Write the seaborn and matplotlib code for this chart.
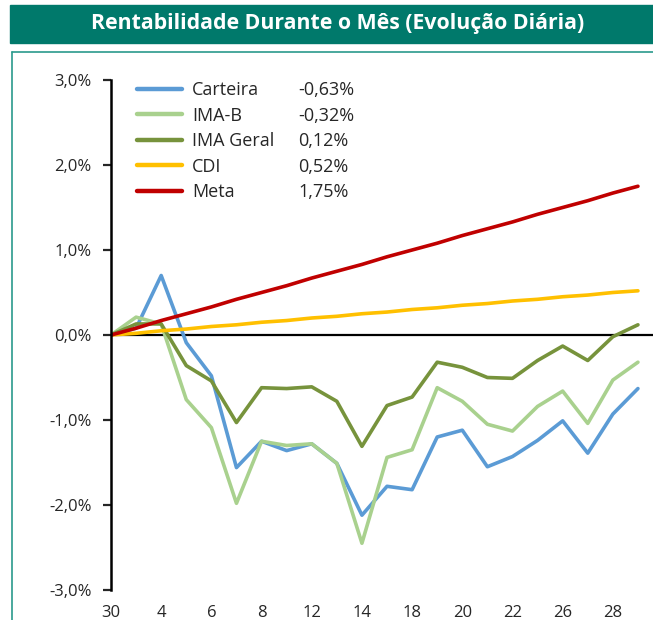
import matplotlib
matplotlib.use("Agg")
import matplotlib.pyplot as plt
from matplotlib.lines import Line2D
from matplotlib.patches import Rectangle
import pandas as pd
import seaborn as sb

# data (percent)
days = ["30", "1", "4", "5", "6", "7", "8", "11", "12", "13", "14",
        "15", "18", "19", "20", "21", "22", "25", "26", "27", "28", "29"]
carteira = [0.00, 0.08, 0.70, -0.09, -0.48, -1.56, -1.25, -1.36, -1.28, -1.51, -2.12,
            -1.78, -1.82, -1.20, -1.12, -1.55, -1.43, -1.24, -1.01, -1.39, -0.93, -0.63]
ima_b = [0.00, 0.21, 0.13, -0.76, -1.09, -1.98, -1.25, -1.30, -1.28, -1.51, -2.45,
         -1.44, -1.35, -0.62, -0.78, -1.05, -1.13, -0.84, -0.66, -1.04, -0.53, -0.32]
ima_geral = [0.00, 0.13, 0.13, -0.36, -0.54, -1.03, -0.62, -0.63, -0.61, -0.78, -1.31,
             -0.83, -0.73, -0.32, -0.38, -0.50, -0.51, -0.30, -0.13, -0.30, -0.02, 0.12]
cdi = [0.00, 0.02, 0.05, 0.07, 0.10, 0.12, 0.15, 0.17, 0.20, 0.22, 0.25,
       0.27, 0.30, 0.32, 0.35, 0.37, 0.40, 0.42, 0.45, 0.47, 0.50, 0.52]
meta = [0.00, 0.08, 0.17, 0.25, 0.33, 0.42, 0.50, 0.58, 0.67, 0.75, 0.83,
        0.92, 1.00, 1.08, 1.17, 1.25, 1.33, 1.42, 1.50, 1.58, 1.67, 1.75]
names = ["Carteira", "IMA-B", "IMA Geral", "CDI", "Meta"]
month_values = ["-0,63%", "-0,32%", "0,12%", "0,52%", "1,75%"]
colors = ["#5B9BD5", "#A9D18E", "#77933C", "#FFC000", "#C00000"]
teal = "#00796B"

# long-form table for seaborn
series = [carteira, ima_b, ima_geral, cdi, meta]
rows = []
for name, vals in zip(names, series):
    for i, v in enumerate(vals):
        rows.append({"pos": i, "valor": v, "serie": name})
df = pd.DataFrame(rows)

sb.set_style("white")
plt.rcParams["font.family"] = ["Open Sans", "DejaVu Sans"]

W, H = 653, 620
fig = plt.figure(figsize=(W / 100, H / 100), dpi=100)

# title bar and frame
fig.patches.append(Rectangle((10 / W, 1 - 43 / H), 1 - 10 / W, 38 / H,
                             transform=fig.transFigure, color=teal, zorder=0))
fig.text(338 / W, 1 - 24 / H, "Rentabilidade Durante o Mês (Evolução Diária)",
         color="white", fontsize=15.3, fontweight="bold", ha="center", va="center")
fig.lines.append(Line2D([12 / W, 12 / W], [0, 1 - 52 / H], transform=fig.transFigure,
                        color="#2A9A8C", lw=1.2))
fig.lines.append(Line2D([12 / W, 1], [1 - 52 / H, 1 - 52 / H], transform=fig.transFigure,
                        color="#2A9A8C", lw=1.2))

ax = fig.add_axes([111 / W, 30 / H, 1 - 111 / W, 510 / H])
sb.lineplot(data=df, x="pos", y="valor", hue="serie", hue_order=names,
            palette=colors, linewidth=2.6, legend=False, ax=ax)
ax.axhline(0, color="black", lw=1.6, zorder=1)

ax.set_xlim(0, 21.6)
ax.set_ylim(-3, 3)
ax.set_yticks([-3, -2, -1, 0, 1, 2, 3])
ax.set_yticklabels([("%.1f%%" % v).replace(".", ",") for v in [-3, -2, -1, 0, 1, 2, 3]])
ax.set_xticks(range(0, len(days), 2))
ax.set_xticklabels(days[::2])
ax.tick_params(axis="y", left=True, length=6, width=1.6, pad=8, labelsize=12)
ax.tick_params(axis="x", length=0, pad=11, labelsize=12)
ax.set_xlabel("")
ax.set_ylabel("")
for b in ["top", "right", "bottom"]:
    ax.spines[b].set_visible(False)
ax.spines["left"].set_linewidth(1.8)
ax.spines["left"].set_color("black")

# legend: names and month values
handles = [Line2D([], [], color=c, lw=3.2) for c in colors]
leg1 = ax.legend(handles, names, loc="upper left", bbox_to_anchor=(17 / 542, 1 + 8 / 510),
                 frameon=False, fontsize=13, handlelength=2.5, handletextpad=0.55,
                 labelspacing=0.42, borderpad=0)
ax.add_artist(leg1)
blank = [Line2D([], [], color="none") for _ in colors]
ax.legend(blank, month_values, loc="upper left", bbox_to_anchor=(178 / 542, 1 + 8 / 510),
          frameon=False, fontsize=13, handlelength=0, handletextpad=0,
          labelspacing=0.42, borderpad=0)

fig.savefig("out.png", dpi=100)
